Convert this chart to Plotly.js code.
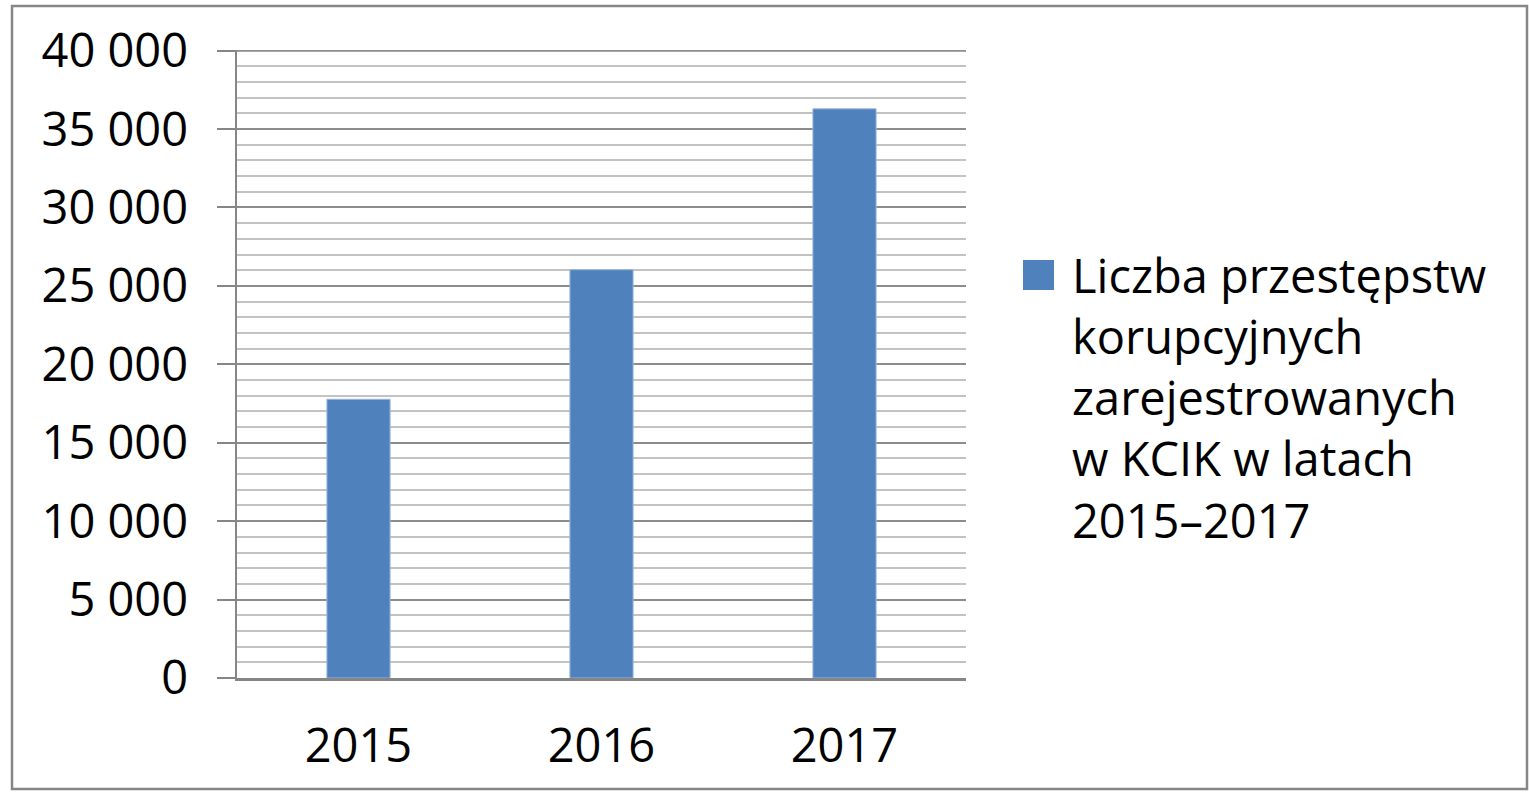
<!DOCTYPE html>
<html>
<head>
<meta charset="utf-8">
<script src="https://cdn.plot.ly/plotly-3.0.1.min.js"></script>
<style>
  html, body { margin: 0; padding: 0; background: #ffffff; }
  #chart { width: 1529px; height: 795px; }
</style>
</head>
<body>
<div id="chart"></div>
<script>
const years = ['2015', '2016', '2017'];
const offences = [17770, 26030, 36290];
const seriesName = 'Liczba przestępstw korupcyjnych zarejestrowanych w KCIK w latach 2015–2017';
const legendLines = ['Liczba przestępstw', 'korupcyjnych', 'zarejestrowanych', 'w KCIK w latach', '2015–2017'];
const yMax = 40000;

const FONT = 'Open Sans, Lato, sans-serif';
const W = 1529, H = 795;
const L = 237, R = 966, T = 50, B = 678;
const pw = R - L, ph = B - T;
const px = x => (x - L) / pw;
const py = y => (B - y) / ph;

const trace = {
  type: 'bar',
  x: years,
  y: offences,
  name: seriesName,
  width: 0.26,
  marker: { color: '#4F81BD', line: { color: '#9bb7de', width: 1 } },
  showlegend: false,
  hoverinfo: 'x+y'
};

const lineCenters = [275, 336, 397, 458, 520];
const annotations = legendLines.map((t, i) => ({
  xref: 'paper', yref: 'paper',
  x: px(1070), y: py(lineCenters[i]),
  xanchor: 'left', yanchor: 'middle',
  text: t, showarrow: false,
  font: { family: FONT, size: 47, color: '#000000' }
}));

const layout = {
  width: W, height: H,
  margin: { l: L, r: W - R, t: T, b: H - B, pad: 0 },
  paper_bgcolor: '#ffffff',
  plot_bgcolor: '#ffffff',
  separators: ', ',
  font: { family: FONT, color: '#000000' },
  showlegend: false,
  xaxis: {
    type: 'category',
    showline: true, linecolor: '#868686', linewidth: 2.5,
    ticks: '', showgrid: false, zeroline: false,
    tickfont: { family: FONT, size: 47, color: '#000000' },
    ticklabelstandoff: 25
  },
  yaxis: {
    range: [0, 40040],
    dtick: 5000, tick0: 0,
    tickformat: ',d',
    showline: true, linecolor: '#868686', linewidth: 2.5,
    ticks: 'outside', ticklen: 18, tickwidth: 2, tickcolor: '#868686',
    showgrid: true, gridcolor: '#8c8c8c', gridwidth: 2,
    minor: { dtick: 1000, showgrid: true, gridcolor: '#c3c3c3', gridwidth: 2, ticks: '' },
    zeroline: false,
    tickfont: { family: FONT, size: 47, color: '#000000' },
    ticklabelstandoff: 19
  },
  shapes: [
    { type: 'line', xref: 'paper', yref: 'y', layer: 'below',
      x0: 0, x1: 1, y0: yMax, y1: yMax,
      line: { color: '#8c8c8c', width: 2 } },
    { type: 'rect', xref: 'paper', yref: 'paper', layer: 'above',
      x0: px(12), x1: px(1527), y0: py(789), y1: py(6),
      line: { color: '#868686', width: 2.5 }, fillcolor: 'rgba(0,0,0,0)' },
    { type: 'rect', xref: 'paper', yref: 'paper', layer: 'above',
      x0: px(1023), x1: px(1054), y0: py(290), y1: py(260),
      line: { width: 0 }, fillcolor: '#4F81BD' }
  ],
  annotations: annotations
};

Plotly.newPlot('chart', [trace], layout, { displayModeBar: false, staticPlot: true });
</script>
</body>
</html>
